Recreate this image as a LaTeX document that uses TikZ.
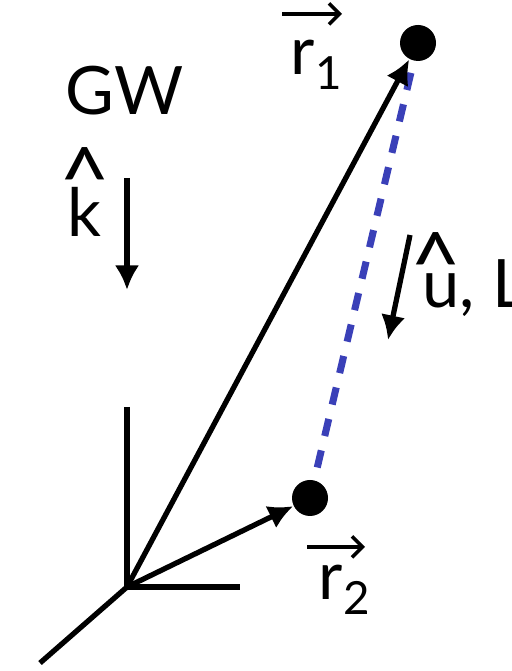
\documentclass[tikz,border=0pt]{standalone}
\usepackage{fontspec}
\setmainfont{Lato}
\usetikzlibrary{arrows.meta, positioning}
\definecolor{sepblue}{HTML}{3A40B8}

\begin{document}
\begin{tikzpicture}[
		axis/.style={line width=1.5pt},
		vec/.style={line width=1.5pt, -{Latex[length=7pt, width=7pt]}},
		over/.style={line width=1pt, -{Straight Barb[length=3pt, width=6pt]}},
		dot/.style={circle, fill=black, inner sep=0pt, minimum size=0.36cm},
		sep/.style={draw=sepblue, line width=2pt, dash pattern=on 5pt off 4.2pt},
		lbl/.style={font=\fontsize{19}{22}\selectfont, inner sep=0pt},
		hat/.style={font=\fontsize{25}{27}\selectfont, inner sep=0pt, anchor=base}
		]
		\useasboundingbox (0,0) rectangle (5.12,6.71);
		
		% Frame at the origin
		\coordinate (O) at (1.27,0.84);
		\coordinate (zaxis) at (1.27,2.64);
		\coordinate (xaxis) at (2.40,0.84);
		\coordinate (yaxis) at (0.40,0.08);
		\draw[axis] (zaxis) -- (O) -- (xaxis);
		\draw[axis] (O) -- (yaxis);
		
		% The two masses
		\node[dot] (m1) at (4.18,6.28) {};
		\node[dot] (m2) at (3.10,1.73) {};
		\draw[sep, shorten <=0.12cm, shorten >=0.12cm] (m1) -- (m2);
		\draw[vec] (O) -- (m1);
		\draw[vec] (O) -- (m2);
		
		% Position labels
		\node[lbl, anchor=base west] (rone) at (2.90,5.96) {r\raisebox{-0.22em}{\fontsize{13}{15}\selectfont 1}};
		\draw[over] ([xshift=-0.08cm, yshift=0.26cm]rone.north west) -- ++(0.60,0);
		\node[lbl, anchor=base west] (rtwo) at (3.18,0.71) {r\raisebox{-0.22em}{\fontsize{13}{15}\selectfont 2}};
		\draw[over] ([xshift=-0.11cm, yshift=0.18cm]rtwo.north west) -- ++(0.58,0);
		
		% Wave direction
		\node[lbl, anchor=base west] (gw) at (0.65,5.56) {GW};
		\node[lbl, anchor=base west] (k) at (0.67,4.34) {k};
		\node[hat] (khat) at ([yshift=0.26cm]k.base) {\textasciicircum};
		\coordinate (ktop) at (1.27,4.93);
		\coordinate (kbot) at (1.27,3.81);
		\draw[vec] (ktop) -- (kbot);
		
		% Separation
		\node[lbl, anchor=base west] (ul) at (4.22,3.63) {u, L};
		\node[hat] (uhat) at ([xshift=0.14cm, yshift=0.12cm]ul.base west) {\textasciicircum};
		\coordinate (utop) at (4.10,4.36);
		\coordinate (ubot) at (3.88,3.31);
		\draw[vec] (utop) -- (ubot);
	\end{tikzpicture}
\end{document}
